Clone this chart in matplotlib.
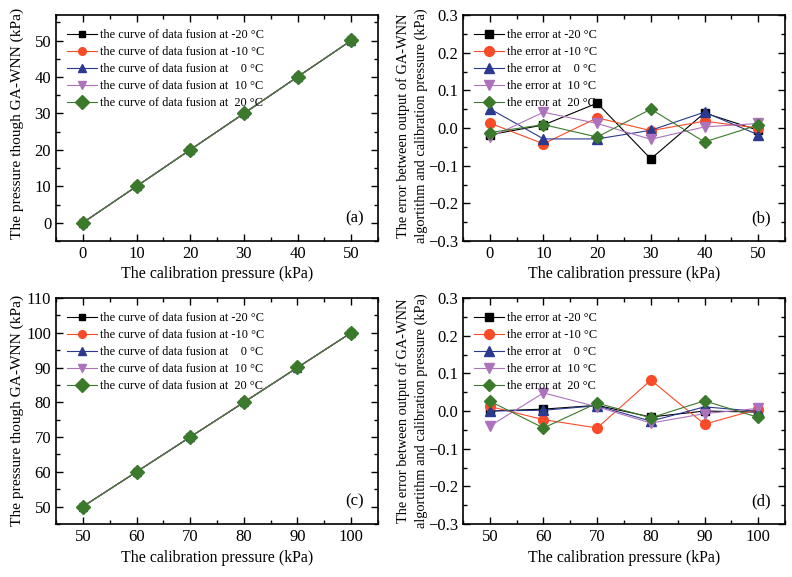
import matplotlib
matplotlib.use("Agg")
import matplotlib.pyplot as plt
from matplotlib.ticker import MultipleLocator

plt.rcParams['font.family'] = ['Liberation Serif', 'DejaVu Serif']

# ---- data ----
temps = [-20, -10, 0, 10, 20]
x_low = [0, 10, 20, 30, 40, 50]
x_high = [50, 60, 70, 80, 90, 100]

err_low = {
    -20: [-0.018, 0.008, 0.066, -0.082, 0.040, -0.006],
    -10: [0.013, -0.042, 0.027, -0.007, 0.018, 0.000],
    0:   [0.051, -0.029, -0.029, -0.006, 0.042, -0.018],
    10:  [-0.025, 0.042, 0.012, -0.030, 0.003, 0.012],
    20:  [-0.012, 0.009, -0.024, 0.050, -0.037, 0.008],
}
err_high = {
    -20: [0.000, 0.005, 0.015, -0.016, 0.000, -0.003],
    -10: [0.012, -0.023, -0.045, 0.082, -0.035, 0.005],
    0:   [0.000, 0.002, 0.014, -0.027, 0.011, -0.001],
    10:  [-0.040, 0.048, 0.011, -0.032, -0.007, 0.007],
    20:  [0.026, -0.045, 0.021, -0.018, 0.027, -0.017],
}
fused_low = {t: [x + e for x, e in zip(x_low, err_low[t])] for t in temps}
fused_high = {t: [x + e for x, e in zip(x_high, err_high[t])] for t in temps}

colors = ['#000000', '#FA4B28', '#2B3A8E', '#AC72BC', '#3B7A2C']
markers = ['s', 'o', '^', 'v', 'D']
msizes_fused = [5, 5.5, 5.5, 5.5, 7]
msizes_err = [6, 7, 7, 7, 6]
temp_lbl = ['-20', '-10', '   0', ' 10', ' 20']

xlabel_txt = 'The calibration pressure (kPa)'
ylabel_fused = 'The pressure though GA-WNN (kPa)'
ylabel_err1 = 'The error between output of GA-WNN'
ylabel_err2 = 'algortithm and calibration pressure (kPa)'

W, H = 792, 577
fig = plt.figure(figsize=(W / 100, H / 100), dpi=100)
renderer = fig.canvas.get_renderer()

def px_axes(l, t, r, b):
    return fig.add_axes([l / W, 1 - b / H, (r - l) / W, (b - t) / H])

def fit_size(s, length, rotation=0):
    t = fig.text(0, 0, s, fontsize=12, rotation=rotation)
    bb = t.get_window_extent(renderer)
    cur = bb.height if rotation == 90 else bb.width
    t.remove()
    return 12 * length / cur

def fig_text(x, y, s, size, rotation=0):
    return fig.text(x / W, 1 - y / H, s, ha='center', va='center',
                    rotation=rotation, fontsize=size, rotation_mode='anchor')

def style(ax):
    ax.tick_params(which='both', direction='in', top=True, right=True,
                   labelsize=12, width=1)
    ax.tick_params(which='major', length=5)
    ax.tick_params(which='minor', length=3)
    for s in ax.spines.values():
        s.set_linewidth(1.2)

LEG = dict(loc='upper left', frameon=False, fontsize=8.8, handlelength=2.4,
           handletextpad=0.3, labelspacing=0.42, borderaxespad=0.0,
           bbox_to_anchor=(0.02, 0.96))

axA = px_axes(56, 15, 378, 241)
axB = px_axes(463, 15, 785, 241)
axC = px_axes(56, 298, 378, 524)
axD = px_axes(463, 298, 785, 524)

for ax, xs, fused, lo, hi, yl, lab in [
        (axA, x_low, fused_low, -5, 55, (-5, 57), '(a)'),
        (axC, x_high, fused_high, 45, 105, (45, 110), '(c)')]:
    for i, t in enumerate(temps):
        ax.plot(xs, fused[t], color=colors[i], marker=markers[i],
                markersize=msizes_fused[i], linewidth=0.8,
                label=f'the curve of data fusion at {temp_lbl[i]} °C')
    ax.set_xlim(lo, hi)
    ax.set_ylim(*yl)
    ax.set_xticks(xs)
    ax.xaxis.set_minor_locator(MultipleLocator(5))
    ax.yaxis.set_major_locator(MultipleLocator(10))
    ax.yaxis.set_minor_locator(MultipleLocator(5))
    style(ax)
    ax.text(0.955, 0.1, lab, transform=ax.transAxes, ha='right', va='center', fontsize=12)
    ax.legend(**LEG)

for ax, xs, err, lo, hi, lab in [
        (axB, x_low, err_low, -5, 55, '(b)'),
        (axD, x_high, err_high, 45, 105, '(d)')]:
    for i, t in enumerate(temps):
        ax.plot(xs, err[t], color=colors[i], marker=markers[i],
                markersize=msizes_err[i], linewidth=0.8,
                label=f'the error at {temp_lbl[i]} °C')
    ax.set_xlim(lo, hi)
    ax.set_ylim(-0.3, 0.3)
    ax.set_xticks(xs)
    ax.xaxis.set_minor_locator(MultipleLocator(5))
    ax.yaxis.set_major_locator(MultipleLocator(0.1))
    ax.yaxis.set_minor_locator(MultipleLocator(0.05))
    style(ax)
    ax.text(0.955, 0.1, lab, transform=ax.transAxes, ha='right', va='center', fontsize=12)
    ax.legend(**LEG)

# axis labels (pixel-placed to match reference layout)
xs_size = fit_size(xlabel_txt, 191)
yf_size = fit_size(ylabel_fused, 231, rotation=90)
ye_size = fit_size(ylabel_err1, 224, rotation=90)
for cx, cy in [(217, 274), (624, 274), (217, 558), (624, 558)]:
    fig_text(cx, cy, xlabel_txt, xs_size)
fig_text(17, 123, ylabel_fused, yf_size, rotation=90)
fig_text(17, 410, ylabel_fused, yf_size, rotation=90)
fig_text(403, 126, ylabel_err1, ye_size, rotation=90)
fig_text(421, 126, ylabel_err2, ye_size, rotation=90)
fig_text(403, 411, ylabel_err1, ye_size, rotation=90)
fig_text(421, 411, ylabel_err2, ye_size, rotation=90)

fig.savefig('out.png', dpi=100)
